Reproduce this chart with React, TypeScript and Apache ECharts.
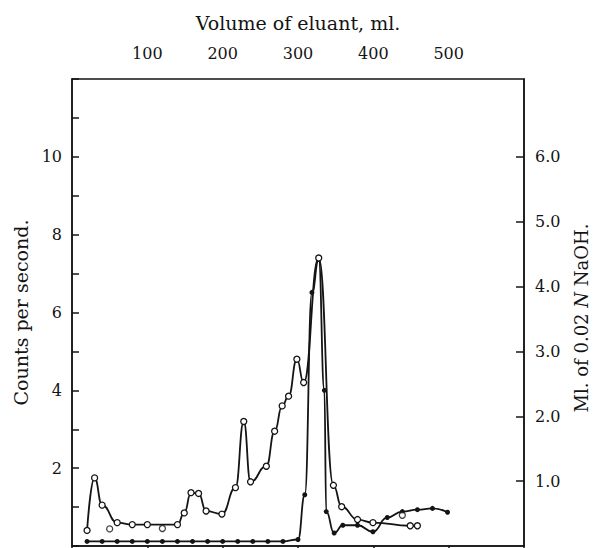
import React, { useEffect, useRef } from "react";
import * as echarts from "echarts";

// Open circles: counts per second (left axis)
const volumeOpen = [20, 30, 40, 60, 80, 100, 140, 149, 158, 168, 178, 199, 217, 228, 237, 258, 269, 279, 287.5, 298.5, 307.5, 327.5, 347, 358, 379, 399.5, 449, 458.5];
const countsOpen = [0.4, 1.75, 1.05, 0.6, 0.55, 0.55, 0.55, 0.85, 1.37, 1.35, 0.9, 0.82, 1.5, 3.2, 1.65, 2.05, 2.95, 3.6, 3.85, 4.8, 4.2, 7.4, 1.56, 1.01, 0.68, 0.6, 0.52, 0.52];

// Open circles lying off the drawn curve
const volumeStray = [50, 120, 438.5];
const countsStray = [0.44, 0.45, 0.79];

// Filled circles: ml of 0.02 N NaOH (right axis)
const volumeFilled = [20, 40, 60, 80, 100, 120, 140, 160, 180, 200, 220, 240, 260, 280, 300, 309, 318.5, 327.5, 335, 337.5, 348, 359.5, 379, 399.5, 418.5, 438.5, 458.5, 478.5, 498.5];
const mlNaOH = [0.07, 0.07, 0.07, 0.07, 0.07, 0.07, 0.07, 0.07, 0.07, 0.07, 0.07, 0.07, 0.07, 0.07, 0.1, 0.79, 3.91, 4.42, 2.4, 0.53, 0.2, 0.32, 0.32, 0.22, 0.44, 0.53, 0.56, 0.58, 0.52];

const volumeTicks = [100, 200, 300, 400, 500];
const countsLabels = [2, 4, 6, 8, 10];
const naohTicks = [1, 2, 3, 4, 5, 6];

const FONT = "DejaVu Serif";
const INK = "#141414";

export default function App() {
  const ref = useRef<HTMLDivElement>(null);
  useEffect(() => {
    if (!ref.current) return;
    const chart = echarts.init(ref.current, null, { renderer: "svg" });
    const zip = (xs: number[], ys: number[]) => xs.map((x, i) => [x, ys[i]]);
    chart.setOption({
      animation: false,
      backgroundColor: "#ffffff",
      grid: { left: 72, right: 70, top: 79, bottom: 2, show: true, borderColor: INK, borderWidth: 1.5, backgroundColor: "transparent" },
      graphic: [
        {
          type: "text",
          x: 581,
          y: 318,
          rotation: Math.PI / 2,
          style: {
            text: "Ml. of 0.02 {i|N} NaOH.",
            fontFamily: FONT,
            fontSize: 18,
            fill: INK,
            align: "center",
            verticalAlign: "middle",
            rich: { i: { fontFamily: FONT, fontSize: 18, fontStyle: "italic", fill: INK } },
          },
        },
      ],
      xAxis: {
        type: "value",
        position: "top",
        min: 0,
        max: 600,
        interval: 100,
        name: "Volume of eluant, ml.",
        nameLocation: "middle",
        nameGap: 47,
        nameTextStyle: { fontFamily: FONT, fontSize: 19, color: INK },
        axisLine: { show: true, lineStyle: { color: INK, width: 1.5 } },
        axisTick: { show: true, inside: true, length: 8, lineStyle: { color: INK, width: 1.5 } },
        axisLabel: {
          margin: 18,
          fontFamily: FONT,
          fontSize: 16,
          color: INK,
          formatter: (v: number) => (volumeTicks.includes(v) ? String(v) : ""),
        },
        splitLine: { show: false },
      },
      yAxis: [
        {
          type: "value",
          position: "left",
          min: 0,
          max: 12,
          interval: 1,
          name: "Counts per second.",
          nameLocation: "middle",
          nameGap: 37,
          nameTextStyle: { fontFamily: FONT, fontSize: 19, color: INK },
          axisLine: { show: true, lineStyle: { color: INK, width: 1.5 } },
          axisTick: { show: true, inside: true, length: 7, lineStyle: { color: INK, width: 1.5 } },
          axisLabel: {
            margin: 10,
            fontFamily: FONT,
            fontSize: 16,
            color: INK,
            formatter: (v: number) => (countsLabels.includes(v) ? String(v) : ""),
          },
          splitLine: { show: false },
        },
        {
          type: "value",
          position: "right",
          min: 0,
          max: 7.2,
          axisLine: { show: true, lineStyle: { color: INK, width: 1.5 } },
          axisTick: { show: true, inside: true, length: 8, customValues: naohTicks, lineStyle: { color: INK, width: 1.5 } },
          axisLabel: {
            margin: 11,
            fontFamily: FONT,
            fontSize: 16,
            color: INK,
            customValues: naohTicks,
            formatter: (v: number) => v.toFixed(1),
          },
          splitLine: { show: false },
        },
      ],
      series: [
        {
          type: "line",
          name: "NaOH",
          yAxisIndex: 1,
          data: zip(volumeFilled, mlNaOH),
          smooth: 0.5,
          smoothMonotone: "x",
          symbol: "circle",
          symbolSize: 5,
          lineStyle: { color: INK, width: 1.8 },
          itemStyle: { color: INK, borderColor: INK, borderWidth: 0 },
          z: 2,
        },
        {
          type: "line",
          name: "Counts",
          yAxisIndex: 0,
          data: zip(volumeOpen, countsOpen),
          smooth: 0.5,
          smoothMonotone: "x",
          symbol: "circle",
          symbolSize: 6,
          lineStyle: { color: INK, width: 1.8 },
          itemStyle: { color: "#ffffff", borderColor: INK, borderWidth: 1.3 },
          z: 3,
        },
        {
          type: "scatter",
          name: "Counts (off curve)",
          yAxisIndex: 0,
          data: zip(volumeStray, countsStray),
          symbol: "circle",
          symbolSize: 6,
          itemStyle: { color: "#ffffff", borderColor: INK, borderWidth: 1.3 },
          z: 3,
        },
      ],
    });
    return () => chart.dispose();
  }, []);
  return <div ref={ref} style={{ position: "fixed", left: 0, top: 0, width: 594, height: 548, background: "#fff" }} />;
}
